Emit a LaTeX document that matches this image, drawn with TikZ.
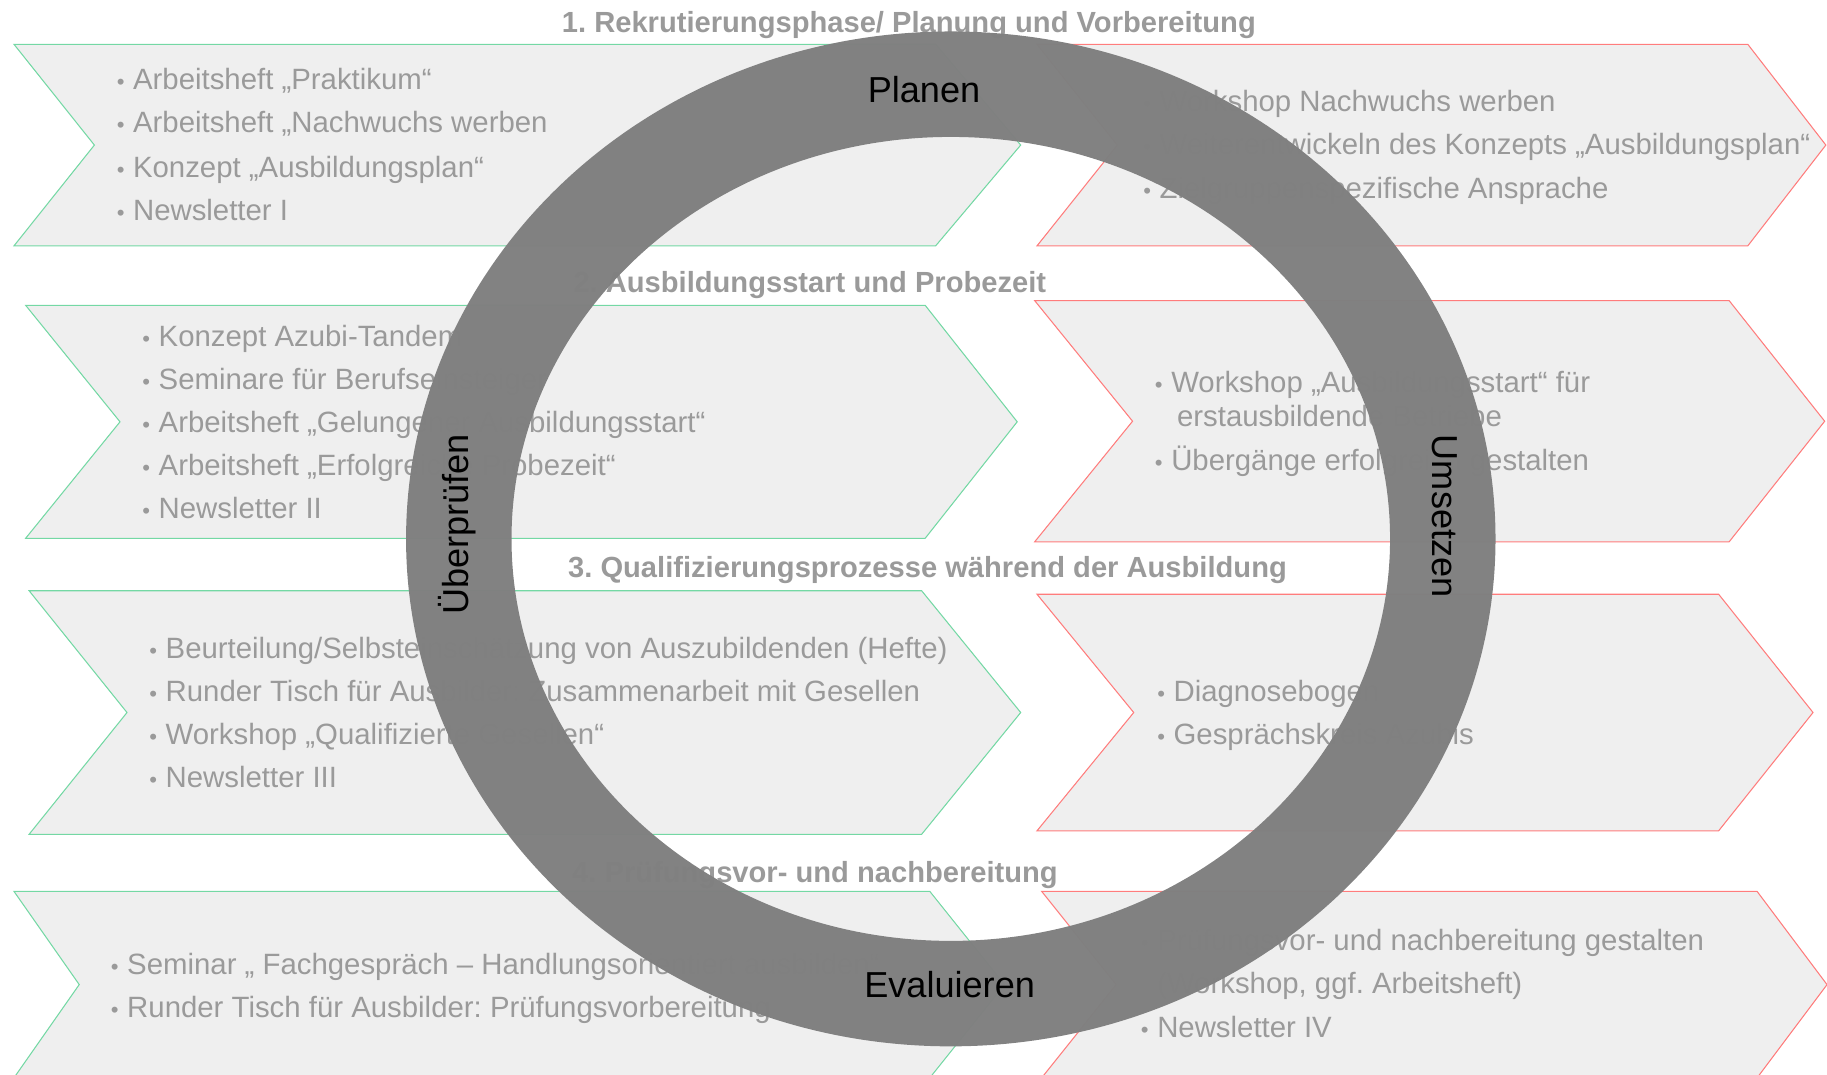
\documentclass[tikz,border=0pt]{standalone}
\usepackage{fontspec}
\setmainfont{Liberation Sans}
\frenchspacing

\definecolor{bandfill}{HTML}{EFEFEF}
\definecolor{greenedge}{HTML}{74D8A4}
\definecolor{rededge}{HTML}{FF7C7C}
\definecolor{itemgray}{HTML}{9A9A9A}
\definecolor{ringgray}{HTML}{808080}

\tikzset{
  band/.style={fill=bandfill, line width=0.9pt, line join=miter},
  leftband/.style={band, draw=greenedge},
  rightband/.style={band, draw=rededge},
  item/.style={anchor=base west, inner sep=0pt, text=itemgray,
    font=\fontsize{25.2}{30}\selectfont},
  phase/.style={inner sep=0pt, text=itemgray,
    font=\bfseries\fontsize{25}{30}\selectfont},
  stage/.style={inner sep=0pt, text=black,
    font=\fontsize{31}{37}\selectfont},
}

% chevron band: left x, notch x, corner x, tip x, top y, bottom y, style
\newcommand\bandshape[7]{%
  \filldraw[#7] (#1,#5) -- (#3,#5) -- (#4,{(#5+#6)/2}) -- (#3,#6)
    -- (#1,#6) -- (#2,{(#5+#6)/2}) -- cycle;}

% small bullet in front of each entry
\newcommand\bl{\makebox[14pt][l]{\fontsize{19}{19}\selectfont •}}

\begin{document}
\begin{tikzpicture}[x=1pt,y=-1pt]
\useasboundingbox (0,0) rectangle (1568,922);

% ---- phase bands: measures (left, green) and offers (right, red)
\bandshape{12}{81}{803}{876}{38}{211}{leftband}
\bandshape{890}{959}{1500}{1567}{38}{211}{rightband}
\bandshape{22}{103}{794}{873}{262}{462}{leftband}
\bandshape{888}{972}{1484}{1566}{258}{465}{rightband}
\bandshape{25}{109}{791}{876}{507}{716}{leftband}
\bandshape{890}{973}{1475}{1556}{510}{713}{rightband}
\bandshape{12}{68}{798}{862}{765}{925}{leftband}
\bandshape{894}{958}{1508}{1568}{765}{925}{rightband}

% ---- phase 1
\node[item] (a1) at (100,77)  {\bl Arbeitsheft „Praktikum“};
\node[item] (a2) at (100,114) {\bl Arbeitsheft „Nachwuchs werben};
\node[item] (a3) at (100,152) {\bl Konzept „Ausbildungsplan“};
\node[item] (a4) at (100,189) {\bl Newsletter I};
\node[item] (b1) at (981,96)  {\bl Workshop Nachwuchs werben};
\node[item] (b2) at (981,133) {\bl Weiterentwickeln des Konzepts „Ausbildungsplan“};
\node[item] (b3) at (981,170) {\bl Zielgruppenspezifische Ansprache};

% ---- phase 2
\node[item] (c1) at (122,297) {\bl Konzept Azubi-Tandem};
\node[item] (c2) at (122,334) {\bl Seminare für Berufseinsteiger};
\node[item] (c3) at (122,371) {\bl Arbeitsheft „Gelungener Ausbildungsstart“};
\node[item] (c4) at (122,408) {\bl Arbeitsheft „Erfolgreiche Probezeit“};
\node[item] (c5) at (122,445) {\bl Newsletter II};
\node[item] (d1) at (991,337) {\bl Workshop „Ausbildungsstart“ für};
\node[item] (d1b) at (1010,366) {erstausbildende Betriebe};
\node[item] (d2) at (991,404) {\bl Übergänge erfolgreich gestalten};

% ---- phase 3
\node[item] (e1) at (128,565) {\bl Beurteilung/Selbsteinschätzung von Auszubildenden (Hefte)};
\node[item] (e2) at (128,602) {\bl Runder Tisch für Ausbilder: Zusammenarbeit mit Gesellen};
\node[item] (e3) at (128,639) {\bl Workshop „Qualifizierte Gesellen“};
\node[item] (e4) at (128,676) {\bl Newsletter III};
\node[item] (f1) at (993,602) {\bl Diagnosebogen};
\node[item] (f2) at (993,639) {\bl Gesprächskreis Azubis};

% ---- phase 4
\node[item] (g1) at (95,836) {\bl Seminar „ Fachgespräch – Handlungsorientiert ausbilden“};
\node[item] (g2) at (95,873) {\bl Runder Tisch für Ausbilder: Prüfungsvorbereitung};
\node[item] (h1) at (979,816) {\bl Prüfungsvor- und nachbereitung gestalten};
\node[item] (h1b) at (993,853) {(Workshop, ggf. Arbeitsheft)};
\node[item] (h2) at (979,890) {\bl Newsletter IV};

% ---- phase headings
\node[phase, anchor=base] (p1) at (780,28) {1. Rekrutierungsphase/ Planung und Vorbereitung};
\node[phase, anchor=base east] (p2) at (898,251) {2. Ausbildungsstart und Probezeit};
\node[phase, anchor=base] (p3) at (796,496) {3. Qualifizierungsprozesse während der Ausbildung};
\node[phase, anchor=base east] (p4) at (908,757) {4. Prüfungsvor- und nachbereitung};

% ---- cycle ring
\coordinate (ringc) at (816,462.5);
\fill[ringgray, fill opacity=0.985, even odd rule]
  (ringc) ellipse [x radius=467.5pt, y radius=435.5pt]
  (ringc) ellipse [x radius=377pt, y radius=345pt];

\node[stage] (plan) at (793,77) {Planen};
\node[stage, rotate=-90] (act) at (1240,443) {Umsetzen};
\node[stage] (eval) at (815,845) {Evaluieren};
\node[stage, rotate=90] (check) at (392,450) {Überprüfen};
\end{tikzpicture}
\end{document}
